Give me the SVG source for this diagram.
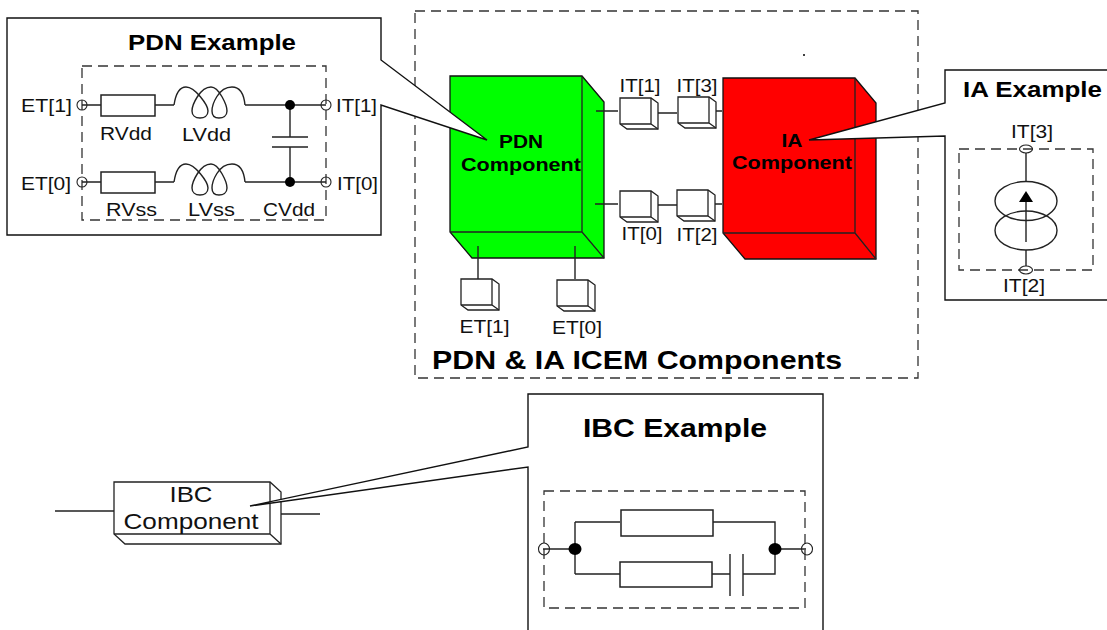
<svg xmlns="http://www.w3.org/2000/svg" xmlns:xlink="http://www.w3.org/1999/xlink" width="1107" height="630" viewBox="0 0 1107 630">
<style>
text{font-family:"Liberation Sans",Arial,sans-serif;fill:#111}
.b{font-weight:bold;fill:#000}
.s{font-size:19px}
.c{font-size:19px}
.dash{fill:none;stroke:#333;stroke-width:1.3;stroke-dasharray:10 6}
.call{fill:#fff;stroke:#111;stroke-width:1.4}
.w{fill:none;stroke:#222;stroke-width:1.4}
.box{fill:#fff;stroke:#222;stroke-width:1.5}
.cube{fill:#fff;stroke:#222;stroke-width:1.3}
.edge{fill:none;stroke:#222;stroke-width:1.3}
.t{fill:none;stroke:#222;stroke-width:1.1}
.blk{fill:#000;stroke:none}
.g{fill:#00ff00;stroke:#111;stroke-width:1.3}
.r{fill:#ff0000;stroke:#111;stroke-width:1.3}
</style>
<defs>
<path id="coil" class="w" d="M174,105 C176,92 180,87 186,87 C195,87 208,105 208,111 C208,116 204,118 200,118 C195,118 192,115 192,111 C192,105 200,87 211,87 C219,87 227,105 227,111 C227,116 223,118 219,118 C214,118 212,115 212,111 C212,105 218,87 232,87 C240,87 244,95 245,105"/>
<g id="cb"><path class="cube" d="M0,0H31L38,5V31H7L0,26Z"/><path class="edge" d="M31,0V26H0M31,26L38,31"/></g>
</defs>
<g id="outer-frame"><rect class="dash" x="415" y="11" width="503" height="367"/><text class="b" x="432" y="369" font-size="25" textLength="410" lengthAdjust="spacingAndGlyphs">PDN &amp; IA ICEM Components</text></g>
<g id="pdn-component"><path class="g" d="M450,76H582L604,102V258H472L450,232Z"/><path class="edge" d="M582,76V232H450M582,232L604,258"/>
<text class="b c" x="521" y="148" text-anchor="middle" textLength="44" lengthAdjust="spacingAndGlyphs">PDN</text><text class="b c" x="521" y="171" text-anchor="middle" textLength="120" lengthAdjust="spacingAndGlyphs">Component</text></g>
<g id="ia-component"><path class="r" d="M723,78H855L876,103V259H745L723,233Z"/><path class="edge" d="M855,78V233H723M855,233L876,259"/>
<text class="b c" x="792" y="147" text-anchor="middle" textLength="21" lengthAdjust="spacingAndGlyphs">IA</text><text class="b c" x="792" y="169" text-anchor="middle" textLength="120" lengthAdjust="spacingAndGlyphs">Component</text></g>
<g id="connectors">
<path class="w" d="M596,111H618M655,113H677M712,111H722M595,204H618M654,205H677M712,204H722M478,246V279M575,246V279M55,511H114M278,514H320"/>
</g>
<g id="port-it1"><use href="#cb" transform="translate(620,98)"/><text class="s" x="640" y="92" text-anchor="middle" textLength="41" lengthAdjust="spacingAndGlyphs">IT[1]</text></g>
<g id="port-it3"><use href="#cb" transform="translate(678,97)"/><text class="s" x="697" y="92" text-anchor="middle" textLength="41" lengthAdjust="spacingAndGlyphs">IT[3]</text></g>
<g id="port-it0"><use href="#cb" transform="translate(620,191)"/><text class="s" x="642" y="240" text-anchor="middle" textLength="41" lengthAdjust="spacingAndGlyphs">IT[0]</text></g>
<g id="port-it2"><use href="#cb" transform="translate(677,190)"/><text class="s" x="697" y="241" text-anchor="middle" textLength="41" lengthAdjust="spacingAndGlyphs">IT[2]</text></g>
<g id="port-et1"><use href="#cb" transform="translate(461,279)"/><text class="s" x="484.500" y="333" text-anchor="middle" textLength="50" lengthAdjust="spacingAndGlyphs">ET[1]</text></g>
<g id="port-et0"><use href="#cb" transform="translate(557,280)"/><text class="s" x="577" y="334" text-anchor="middle" textLength="50" lengthAdjust="spacingAndGlyphs">ET[0]</text></g>
<circle class="blk" cx="804" cy="55" r="1"/>
<g id="pdn-example">
<path class="call" d="M381,60V18H7V235H381V105L487,140Z"/>
<text class="b" x="128" y="50" font-size="21.500" textLength="168" lengthAdjust="spacingAndGlyphs">PDN Example</text>
<rect class="dash" x="82" y="66" width="244" height="154"/>
<use href="#coil"/><use href="#coil" transform="translate(0,77)"/>
<path class="w" d="M82,105H101M155,105H174M245,105H326M82,182H101M155,182H174M245,182H326M290,105V137M290,147V182M272,137H308M272,147H308"/>
<rect class="box" x="101" y="95" width="54" height="21"/><rect class="box" x="101" y="172" width="54" height="21"/>
<circle class="blk" cx="290" cy="105" r="5"/><circle class="blk" cx="290" cy="182" r="5"/>
<circle class="t" cx="82" cy="105" r="5"/><circle class="t" cx="82" cy="182" r="5"/><circle class="t" cx="326" cy="105" r="5"/><circle class="t" cx="326" cy="182" r="5"/>
<text class="s" x="21" y="112" textLength="51" lengthAdjust="spacingAndGlyphs">ET[1]</text><text class="s" x="21" y="190" textLength="50" lengthAdjust="spacingAndGlyphs">ET[0]</text>
<text class="s" x="336" y="112" textLength="41" lengthAdjust="spacingAndGlyphs">IT[1]</text><text class="s" x="337" y="190" textLength="41" lengthAdjust="spacingAndGlyphs">IT[0]</text>
<text class="s" x="100" y="140" textLength="52" lengthAdjust="spacingAndGlyphs">RVdd</text><text class="s" x="182" y="141" textLength="49" lengthAdjust="spacingAndGlyphs">LVdd</text>
<text class="s" x="106" y="216" textLength="51" lengthAdjust="spacingAndGlyphs">RVss</text><text class="s" x="188" y="216" textLength="47" lengthAdjust="spacingAndGlyphs">LVss</text><text class="s" x="263" y="216" textLength="52" lengthAdjust="spacingAndGlyphs">CVdd</text>
</g>
<g id="ia-example">
<path class="call" d="M1107,70H945V103L809,140L945,136V300H1107"/>
<text class="b" x="963" y="97" font-size="22" textLength="139" lengthAdjust="spacingAndGlyphs">IA Example</text>
<rect class="dash" x="959" y="149" width="134" height="121"/>
<path class="w" d="M1026,153V181M1026,250V266M1026,242V200"/>
<ellipse class="w" cx="1026" cy="201" rx="31" ry="19.500"/><ellipse class="w" cx="1026" cy="230.500" rx="31" ry="19.500"/>
<path class="blk" d="M1026,191L1033,202H1019Z"/>
<ellipse class="t" cx="1026" cy="149" rx="6.500" ry="4"/><ellipse class="t" cx="1026" cy="270" rx="6.500" ry="4"/>
<text class="s" x="1032" y="138" text-anchor="middle" textLength="42" lengthAdjust="spacingAndGlyphs">IT[3]</text><text class="s" x="1024" y="292" text-anchor="middle" textLength="42" lengthAdjust="spacingAndGlyphs">IT[2]</text>
</g>
<g id="ibc-component">
<path class="cube" d="M114,482H270L281,492V544H125L114,534Z"/><path class="edge" d="M270,482V534H114M270,534L281,544"/>
<text x="191" y="502" font-size="22.500" text-anchor="middle" textLength="43" lengthAdjust="spacingAndGlyphs">IBC</text>
<text x="191" y="529" font-size="22.500" text-anchor="middle" textLength="135" lengthAdjust="spacingAndGlyphs">Component</text>
</g>
<g id="ibc-example">
<path class="call" d="M528,630V467L250,506L528,447V394H823V630"/>
<text class="b" x="583" y="437" font-size="26" textLength="184" lengthAdjust="spacingAndGlyphs">IBC Example</text>
<rect class="dash" x="544" y="491" width="261" height="117"/>
<path class="w" d="M543,549H575M575,522V574M575,522H620M713,522H775V574H743M806,549H775M575,574H620M712,574H730M730,554V596M743,554V596"/>
<rect class="box" x="621" y="510" width="92" height="26"/><rect class="box" x="620" y="562" width="92" height="25"/>
<ellipse class="blk" cx="575" cy="549" rx="6.500" ry="6"/><ellipse class="blk" cx="775" cy="549" rx="6.500" ry="6"/>
<ellipse class="t" cx="544" cy="549" rx="5.500" ry="6"/><ellipse class="t" cx="807" cy="549" rx="5.500" ry="6"/>
</g>
</svg>
